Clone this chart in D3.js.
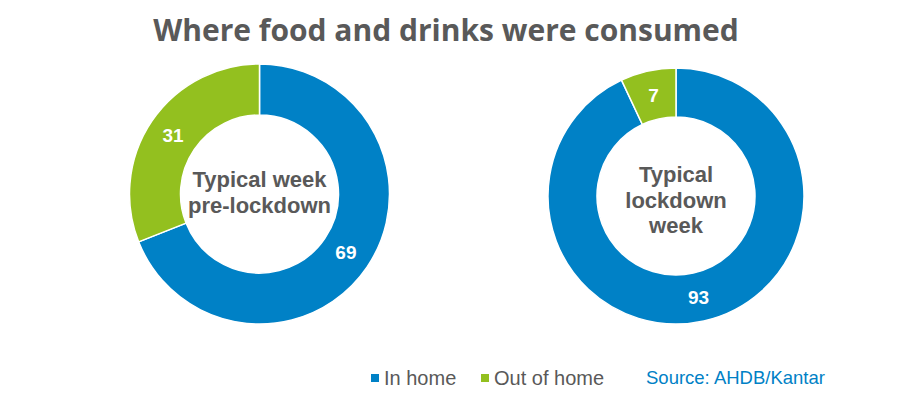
<!DOCTYPE html>
<html>
<head>
<meta charset="utf-8">
<style>
  body { margin: 0; background: #fff; }
  text { font-family: "Liberation Sans", Arial, sans-serif; }
</style>
</head>
<body></body>
<script src="https://d3js.org/d3.v7.min.js"></script>
<script>
  // data
  const categories = ['In home', 'Out of home']
  const preLockdown = [69, 31]
  const lockdown = [93, 7]
  const centreLabels = [['Typical week', 'pre-lockdown'], ['Typical', 'lockdown', 'week']]
  const colors = ['#0081c6', '#93c01f']

  const width = 922
  const height = 399

  const svg = d3.select('body')
    .append('svg')
    .attr('width', width)
    .attr('height', height)

  // title
  svg.append('text')
    .attr('x', 446)
    .attr('y', 41)
    .attr('text-anchor', 'middle')
    .style('font-family', '"Open Sans", sans-serif')
    .style('font-weight', 700)
    .style('font-size', '30px')
    .attr('fill', '#595959')
    .text('Where food and drinks were consumed')

  const color = d3.scaleOrdinal().domain(categories).range(colors)
  const pie = d3.pie().sort(null).value(d => d.value)

  const donuts = [
    { values: preLockdown, cx: 259.5, cy: 194, outer: 130, inner: 79, lines: centreLabels[0], lineGap: 26, firstY: -7 },
    { values: lockdown, cx: 676, cy: 196, outer: 128, inner: 79, lines: centreLabels[1], lineGap: 25.5, firstY: -14 }
  ]

  donuts.forEach(dn => {
    const data = categories.map((c, i) => ({ key: c, value: dn.values[i] }))
    const arc = d3.arc().innerRadius(dn.inner).outerRadius(dn.outer)
    const g = svg.append('g').attr('transform', `translate(${dn.cx}, ${dn.cy})`)

    const arcs = pie(data)
    g.selectAll('path')
      .data(arcs)
      .enter().append('path')
      .attr('d', arc)
      .attr('fill', d => color(d.data.key))
      .attr('stroke', '#fff')
      .attr('stroke-width', 1.5)

    g.selectAll('text.val')
      .data(arcs)
      .enter().append('text')
      .attr('class', 'val')
      .attr('transform', d => `translate(${arc.centroid(d)})`)
      .attr('text-anchor', 'middle')
      .attr('dy', '0.35em')
      .style('font-weight', 700)
      .style('font-size', '19px')
      .attr('fill', '#fff')
      .text(d => d.data.value)

    g.selectAll('text.centre')
      .data(dn.lines)
      .enter().append('text')
      .attr('class', 'centre')
      .attr('x', 0)
      .attr('y', (d, i) => dn.firstY + i * dn.lineGap)
      .attr('text-anchor', 'middle')
      .style('font-weight', 700)
      .style('font-size', '22px')
      .attr('fill', '#595959')
      .text(d => d)
  })

  // legend
  const legend = svg.append('g').attr('transform', 'translate(371, 378)')
  const legendX = [0, 110]
  categories.forEach((c, i) => {
    legend.append('rect')
      .attr('x', legendX[i])
      .attr('y', -4)
      .attr('width', 8)
      .attr('height', 8)
      .attr('fill', color(c))
    legend.append('text')
      .attr('x', legendX[i] + 13)
      .attr('y', 7)
      .style('font-size', '20px')
      .attr('fill', '#595959')
      .text(c)
  })

  svg.append('text')
    .attr('x', 646)
    .attr('y', 384)
    .style('font-size', '18.5px')
    .attr('fill', '#0081c6')
    .text('Source: AHDB/Kantar')
</script>
</html>
